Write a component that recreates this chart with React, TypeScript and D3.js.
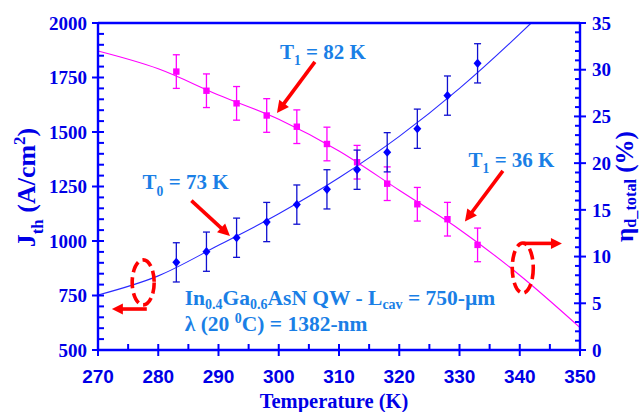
import React from "react";
import * as d3 from "d3";

// Measured data: threshold current density and total differential efficiency vs temperature
const temps = [283, 288, 293, 298, 303, 308, 313, 318, 323, 328, 333];
const jth = [902, 951, 1015, 1087, 1167, 1237, 1327, 1407, 1515, 1667, 1815];
const jthErr = [90, 90, 90, 90, 90, 90, 90, 90, 90, 90, 90];
const eta = [29.8, 27.75, 26.4, 25.1, 23.9, 22.05, 20.1, 17.8, 15.6, 14.0, 11.25];
const etaErr = [1.8, 1.8, 1.8, 1.8, 1.8, 1.8, 1.8, 1.8, 1.8, 1.8, 1.8];

// Fitted curves
const jFitT = [270, 280, 290, 300, 310, 320, 330, 340, 341.9];
const jFit = [752, 840, 980, 1125, 1290, 1480, 1700, 1950, 2000];
const etaFitT = [270, 280, 290, 300, 310, 320, 330, 340, 350];
const etaFit = [32.0, 30.1, 27.3, 24.7, 21.3, 17.1, 12.9, 8.0, 2.4];

// Axis ticks
const xMajor = [270, 280, 290, 300, 310, 320, 330, 340, 350];
const jMajor = [500, 750, 1000, 1250, 1500, 1750, 2000];
const etaMajor = [0, 5, 10, 15, 20, 25, 30, 35];

const SERIF = "'Liberation Serif', 'Times New Roman', serif";
const SANS = "'Liberation Sans', Arial, sans-serif";
const AXIS = "#0000ff";
const LABEL = "#0000e6";
const NOTE = "#1a7fe6";
const RED = "#ff0000";

type Part = { t: string; sub?: boolean; sup?: boolean };

function Rich(props: {
  parts: Part[];
  size: number;
  x: number;
  y: number;
  fill: string;
  anchor?: string;
  transform?: string;
  family?: string;
  subShift?: number;
  scriptScale?: number;
}) {
  const { parts, size } = props;
  const subShift = props.subShift ?? 0.3;
  const scale = props.scriptScale ?? 0.65;
  let shift = 0;
  return (
    <text
      x={props.x}
      y={props.y}
      fill={props.fill}
      fontFamily={props.family || SERIF}
      fontWeight="bold"
      fontSize={size}
      textAnchor={props.anchor || "start"}
      transform={props.transform}
      style={{ whiteSpace: "pre" }}
    >
      {parts.map((p, i) => {
        const target = p.sub ? size * subShift : p.sup ? -size * 0.4 : 0;
        const dy = target - shift;
        shift = target;
        return (
          <tspan key={i} dy={dy} fontSize={p.sub || p.sup ? size * scale : size}>
            {p.t}
          </tspan>
        );
      })}
    </text>
  );
}

function Arrow({ x1, y1, x2, y2, head = 12, width = 12, sw = 3.6 }: { x1: number; y1: number; x2: number; y2: number; head?: number; width?: number; sw?: number }) {
  const dx = x2 - x1, dy = y2 - y1;
  const len = Math.hypot(dx, dy);
  const ux = dx / len, uy = dy / len;
  const bx = x2 - ux * head, by = y2 - uy * head;
  const px = -uy * (width / 2), py = ux * (width / 2);
  return (
    <g>
      <line x1={x1} y1={y1} x2={bx + ux * 1} y2={by + uy * 1} stroke={RED} strokeWidth={sw} />
      <polygon points={`${x2},${y2} ${bx + px},${by + py} ${bx - px},${by - py}`} fill={RED} />
    </g>
  );
}

export default function App() {
  const W = 643, H = 412;
  const left = 98, right = 580, top = 23, bottom = 350;
  const x = d3.scaleLinear().domain([270, 350]).range([left, right]);
  const yJ = d3.scaleLinear().domain([500, 2000]).range([bottom, top]);
  const yE = d3.scaleLinear().domain([0, 35]).range([bottom, top]);

  const jLine = d3.line<number>().x((_, i) => x(jFitT[i])).y((d) => yJ(d)).curve(d3.curveMonotoneX);
  const eLine = d3.line<number>().x((_, i) => x(etaFitT[i])).y((d) => yE(d)).curve(d3.curveMonotoneX);

  const xMinor = d3.range(270, 351, 5).filter((v) => !xMajor.includes(v));
  const jMinor = d3.range(500, 2001, 50).filter((v) => !jMajor.includes(v));
  const eMinor = d3.range(0, 36, 1).filter((v) => !etaMajor.includes(v));

  const diamond = "M0,-4.6L4,0L0,4.6L-4,0Z";
  const cap = 3.5;

  return (
    <svg width={W} height={H} style={{ position: "absolute", left: 0, top: 0, background: "#fff" }}>
      <rect width={W} height={H} fill="#fff" />

      {/* fitted curves */}
      <path d={eLine(etaFit) || ""} fill="none" stroke="#ff00ff" strokeWidth={1.1} />
      <path d={jLine(jFit) || ""} fill="none" stroke="#2a2aff" strokeWidth={1.1} />

      {/* efficiency series */}
      {temps.map((t, i) => (
        <g key={"e" + i} stroke="#ff00ff" strokeWidth={1.3}>
          <line x1={x(t)} x2={x(t)} y1={yE(eta[i] - etaErr[i])} y2={yE(eta[i] + etaErr[i])} />
          <line x1={x(t) - cap} x2={x(t) + cap} y1={yE(eta[i] - etaErr[i])} y2={yE(eta[i] - etaErr[i])} />
          <line x1={x(t) - cap} x2={x(t) + cap} y1={yE(eta[i] + etaErr[i])} y2={yE(eta[i] + etaErr[i])} />
        </g>
      ))}
      {temps.map((t, i) => (
        <rect key={"es" + i} x={x(t) - 3.2} y={yE(eta[i]) - 3.2} width={6.4} height={6.4} fill="#ff00ff" />
      ))}

      {/* threshold current density series */}
      {temps.map((t, i) => (
        <g key={"j" + i} stroke="#1010d0" strokeWidth={1.3}>
          <line x1={x(t)} x2={x(t)} y1={yJ(jth[i] - jthErr[i])} y2={yJ(jth[i] + jthErr[i])} />
          <line x1={x(t) - cap} x2={x(t) + cap} y1={yJ(jth[i] - jthErr[i])} y2={yJ(jth[i] - jthErr[i])} />
          <line x1={x(t) - cap} x2={x(t) + cap} y1={yJ(jth[i] + jthErr[i])} y2={yJ(jth[i] + jthErr[i])} />
        </g>
      ))}
      {temps.map((t, i) => (
        <path key={"jd" + i} d={diamond} transform={`translate(${x(t)},${yJ(jth[i])})`} fill="#0000ff" />
      ))}

      {/* frame */}
      <line x1={left} x2={right} y1={top} y2={top} stroke={AXIS} strokeWidth={2.4} />
      <line x1={left} x2={right} y1={bottom} y2={bottom} stroke={AXIS} strokeWidth={2.4} />
      <line x1={left} x2={left} y1={top} y2={bottom} stroke={AXIS} strokeWidth={2.4} />
      <line x1={right} x2={right} y1={top} y2={bottom} stroke={AXIS} strokeWidth={2.4} />

      {/* x ticks */}
      {xMajor.map((v) => (
        <g key={"xm" + v}>
          <line x1={x(v)} x2={x(v)} y1={bottom - 6} y2={bottom + 6} stroke={AXIS} strokeWidth={2} />
          <text x={x(v)} y={383} textAnchor="middle" fontFamily={SANS} fontWeight="bold" fontSize={19} fill={LABEL}>
            {v}
          </text>
        </g>
      ))}
      {xMinor.map((v) => (
        <line key={"xn" + v} x1={x(v)} x2={x(v)} y1={bottom - 6} y2={bottom} stroke={AXIS} strokeWidth={2} />
      ))}

      {/* left ticks */}
      {jMajor.map((v) => (
        <g key={"jm" + v}>
          <line x1={left - 6} x2={left + 6} y1={yJ(v)} y2={yJ(v)} stroke={AXIS} strokeWidth={2} />
          <text x={87} y={yJ(v)} dy="0.35em" textAnchor="end" fontFamily={SERIF} fontWeight="bold" fontSize={19} fill={LABEL}>
            {v}
          </text>
        </g>
      ))}
      {jMinor.map((v) => (
        <line key={"jn" + v} x1={left} x2={left + 6} y1={yJ(v)} y2={yJ(v)} stroke={AXIS} strokeWidth={2} />
      ))}

      {/* right ticks */}
      {etaMajor.map((v) => (
        <g key={"em" + v}>
          <line x1={right - 6} x2={right + 6} y1={yE(v)} y2={yE(v)} stroke={AXIS} strokeWidth={2} />
          <text x={592} y={yE(v)} dy="0.35em" textAnchor="start" fontFamily={SERIF} fontWeight="bold" fontSize={19} fill={LABEL}>
            {v}
          </text>
        </g>
      ))}
      {eMinor.map((v) => (
        <line key={"en" + v} x1={right - 5} x2={right} y1={yE(v)} y2={yE(v)} stroke={AXIS} strokeWidth={2} />
      ))}

      {/* axis titles */}
      <text x={334} y={408} textAnchor="middle" fontFamily={SERIF} fontWeight="bold" fontSize={20.5} fill={LABEL}>
        Temperature (K)
      </text>
      <Rich
        parts={[{ t: "J" }, { t: "th", sub: true }, { t: " (A/cm" }, { t: "2", sup: true }, { t: ")" }]}
        size={26}
        x={0}
        y={0}
        anchor="middle"
        fill={LABEL}
        transform={`translate(35,${(top + bottom) / 2 + 1}) rotate(-90)`}
      />
      <Rich
        parts={[{ t: "η" }, { t: "d_total", sub: true }, { t: " (%)" }]}
        size={25}
        x={0}
        y={0}
        anchor="middle"
        fill={LABEL}
        subShift={0.12}
        transform={`translate(633,${(top + bottom) / 2}) rotate(-90)`}
      />

      {/* annotations */}
      <Rich parts={[{ t: "T" }, { t: "1", sub: true }, { t: " = 82 K" }]} size={21} x={x(300.2)} y={yJ(1835)} fill={NOTE} />
      <Arrow x1={x(306.0)} y1={yJ(1822)} x2={x(299.7)} y2={yJ(1587)} />

      <Rich parts={[{ t: "T" }, { t: "0", sub: true }, { t: " = 73 K" }]} size={21} x={x(277.4)} y={yJ(1237)} fill={NOTE} />
      <Arrow x1={x(285.5)} y1={yJ(1185)} x2={x(291.9)} y2={yJ(1023)} />

      <Rich parts={[{ t: "T" }, { t: "1", sub: true }, { t: " = 36 K" }]} size={21} x={x(331.5)} y={yJ(1341)} fill={NOTE} />
      <Arrow x1={x(337.2)} y1={yJ(1322)} x2={x(330.9)} y2={yJ(1089)} />

      <Rich
        parts={[
          { t: "In" },
          { t: "0.4", sub: true },
          { t: "Ga" },
          { t: "0.6", sub: true },
          { t: "AsN QW - L" },
          { t: "cav", sub: true },
          { t: " = 750-µm" },
        ]}
        size={21.5}
        subShift={0.22}
        x={x(284.4)}
        y={yJ(708)}
        fill={NOTE}
      />
      <Rich
        parts={[{ t: "λ (20 " }, { t: "0", sup: true }, { t: "C) = 1382-nm" }]}
        size={21.5}
        x={x(284.4)}
        y={yJ(585)}
        fill={NOTE}
      />

      {/* dashed region markers pointing to each axis */}
      <ellipse cx={x(277.5)} cy={yJ(810)} rx={11} ry={22.5} fill="none" stroke={RED} strokeWidth={3.6} strokeDasharray="11 5" />
      <Arrow x1={x(278.1)} y1={yJ(688)} x2={x(272.3)} y2={yJ(688)} head={11} width={11} />
      <ellipse cx={x(340.5)} cy={yJ(876)} rx={10.5} ry={25} fill="none" stroke={RED} strokeWidth={3.6} strokeDasharray="11 5" />
      <Arrow x1={x(340.6)} y1={yJ(989)} x2={x(347.0)} y2={yJ(989)} head={11} width={11} />
    </svg>
  );
}
